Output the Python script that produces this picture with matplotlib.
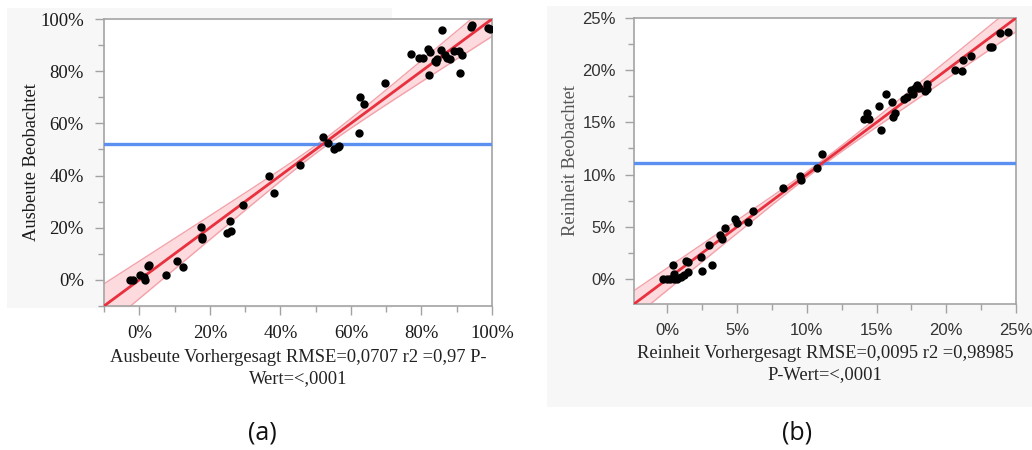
import numpy as np
import matplotlib
matplotlib.use("Agg")
import matplotlib.pyplot as plt
from matplotlib.patches import Rectangle
from matplotlib.ticker import FuncFormatter, MultipleLocator

# ---- Ausbeute (yield): predicted vs. observed, in percent ----
ausbeute_pred = [-2.7, -1.8, 0.3, 1.2, 1.5, 2.4, 2.7, 7.5, 10.6, 12.3,
                 17.6, 17.7, 17.8, 25.0, 25.7, 25.9, 29.5, 36.9, 38.2, 45.7,
                 52.1, 53.4, 55.3, 56.2, 56.6, 62.2, 62.7, 63.8, 69.7, 77.0,
                 79.4, 80.5, 81.9, 82.4, 82.2, 83.9, 84.3, 84.1, 85.8, 85.6,
                 86.8, 87.2, 88.1, 89.2, 90.6, 90.9, 91.6, 94.1, 94.3, 98.9,
                 99.4]
ausbeute_obs = [0.0, 0.0, 1.8, 1.3, 0.0, 5.4, 5.9, 2.0, 7.4, 5.1,
                20.4, 16.6, 15.8, 17.9, 22.7, 18.8, 28.7, 40.0, 33.2, 43.9,
                54.9, 52.4, 50.2, 51.1, 51.5, 56.4, 70.0, 67.6, 75.4, 86.6,
                85.2, 85.2, 88.4, 87.2, 78.7, 84.0, 84.5, 83.4, 95.7, 88.1,
                86.2, 84.9, 84.5, 87.7, 87.9, 79.4, 86.2, 97.1, 97.8, 96.6,
                96.0]
ausbeute_mean = 52.0
ausbeute_fit = (1.0, 0.0)          # slope, intercept
ausbeute_band = (1.5, 0.135)       # half-width at mean, growth per unit distance

# ---- Reinheit (purity): predicted vs. observed, in percent ----
reinheit_pred = [-0.3, -0.05, 0.2, 0.45, 0.7, 0.5, 0.95, 1.2, 1.45, 0.38,
                 1.3, 1.5, 2.42, 2.46, 3.0, 3.2, 3.8, 3.93, 4.1, 4.86,
                 4.98, 5.77, 6.15, 8.26, 9.48, 9.55, 10.75, 11.06, 14.13, 14.32,
                 14.46, 15.18, 15.33, 15.7, 16.1, 16.2, 16.3, 16.95, 17.2, 17.48,
                 17.58, 17.77, 17.9, 18.05, 18.44, 18.6, 18.6, 20.6, 21.1, 21.2,
                 21.8, 23.1, 23.25, 23.85, 24.4]
reinheit_obs = [0.0, 0.0, 0.0, 0.0, 0.0, 0.45, 0.15, 0.38, 0.65, 1.3,
                1.75, 1.65, 2.15, 0.72, 3.28, 1.34, 4.25, 3.86, 4.85, 5.7,
                5.36, 5.43, 6.48, 8.68, 9.9, 9.5, 10.6, 12.0, 15.33, 15.9,
                15.36, 16.6, 14.24, 17.75, 16.95, 15.5, 15.9, 17.27, 17.43, 18.07,
                17.69, 18.3, 18.58, 18.3, 17.98, 18.2, 18.7, 20.05, 19.96, 21.0,
                21.4, 22.25, 22.25, 23.56, 23.7]
reinheit_mean = 11.1
reinheit_fit = (1.0, 0.0)
reinheit_band = (0.25, 0.093)

RED = "#e8303e"
BAND_FILL = "#fcdadd"
BAND_EDGE = "#f3a2aa"
BLUE = "#5b8ff0"
FRAME = "#a3a3a3"
BG = "#f7f7f7"

fig = plt.figure(figsize=(10.32, 4.5), dpi=100)
fig.patch.set_facecolor("white")

# light grey panels behind the plots
for x0, y0, w, h in [(7, 8, 385, 300), (547, 6, 485, 401)]:
    fig.add_artist(Rectangle((x0 / 1032, 1 - (y0 + h) / 450), w / 1032, h / 450,
                             transform=fig.transFigure, facecolor=BG,
                             edgecolor="none", zorder=-10))

pct = FuncFormatter(lambda v, _: f"{v:.0f}%")


def draw_panel(ax, xs, ys, mean_obs, fit, band, lim, major, minor,
               tick_font, tick_size, label_font, xlabel, ylabel,
               ylabel_color, tick_color, ytick_pad, ylabel_pad):
    ax.set_facecolor("white")
    lo, hi = lim
    xx = np.linspace(lo, hi, 400)
    slope, icpt = fit
    yy = slope * xx + icpt
    a, b = band
    hw = np.sqrt(a ** 2 + (b * (xx - mean_obs)) ** 2)
    ax.fill_between(xx, yy - hw, yy + hw, color=BAND_FILL, lw=0, zorder=1)
    ax.plot(xx, yy - hw, color=BAND_EDGE, lw=1.0, zorder=2)
    ax.plot(xx, yy + hw, color=BAND_EDGE, lw=1.0, zorder=2)
    ax.axhline(mean_obs, color=BLUE, lw=2.4, zorder=3)
    ax.plot(xx, yy, color=RED, lw=2.0, zorder=4)
    ax.plot(xs, ys, "o", color="black", ms=5.0, zorder=5)

    ax.set_xlim(lo, hi)
    ax.set_ylim(lo, hi)
    for axis in (ax.xaxis, ax.yaxis):
        axis.set_major_locator(MultipleLocator(major))
        axis.set_minor_locator(MultipleLocator(minor))
        axis.set_major_formatter(pct)
    for s in ax.spines.values():
        s.set_color(FRAME)
        s.set_linewidth(1.2)
    ax.tick_params(which="major", length=6.5, width=1.0, color=FRAME,
                   labelsize=tick_size, labelcolor=tick_color)
    ax.tick_params(which="minor", length=4, width=1.0, color=FRAME)
    ax.tick_params(axis="x", which="major", pad=7)
    ax.tick_params(axis="y", which="major", pad=ytick_pad)
    for lab in ax.get_xticklabels() + ax.get_yticklabels():
        lab.set_family(tick_font)
    ax.set_xlabel(xlabel, family=label_font, fontsize=13.3, color="#222222",
                  linespacing=1.3, labelpad=5)
    ax.set_ylabel(ylabel, family=label_font, fontsize=13.3, color=ylabel_color,
                  labelpad=ylabel_pad)


ax_a = fig.add_axes([104 / 1032, 1 - 306 / 450, 388 / 1032, 287 / 450])
draw_panel(ax_a, ausbeute_pred, ausbeute_obs, ausbeute_mean, ausbeute_fit,
           ausbeute_band, (-10, 100), 20, 10,
           "Liberation Serif", 13.5, "Liberation Serif",
           "Ausbeute Vorhergesagt RMSE=0,0707 r2 =0,97 P-\nWert=<,0001",
           "Ausbeute Beobachtet", "#1a1a1a", "#1a1a1a", 8, 0)

ax_b = fig.add_axes([634 / 1032, 1 - 304 / 450, 382 / 1032, 286 / 450])
draw_panel(ax_b, reinheit_pred, reinheit_obs, reinheit_mean, reinheit_fit,
           reinheit_band, (-2.4, 25), 5, 2.5,
           "Liberation Sans", 12, "Liberation Serif",
           "Reinheit Vorhergesagt RMSE=0,0095 r2 =0,98985\nP-Wert=<,0001",
           "Reinheit Beobachtet", "#555555", "#333333", 6.5, 2.5)

fig.text(262 / 1032, 1 - 433 / 450, "(a)", family="Open Sans", fontsize=18,
         ha="center", va="center", color="#111111")
fig.text(797 / 1032, 1 - 433 / 450, "(b)", family="Open Sans", fontsize=18,
         ha="center", va="center", color="#111111")

fig.savefig("out.png", dpi=100, facecolor="white")
